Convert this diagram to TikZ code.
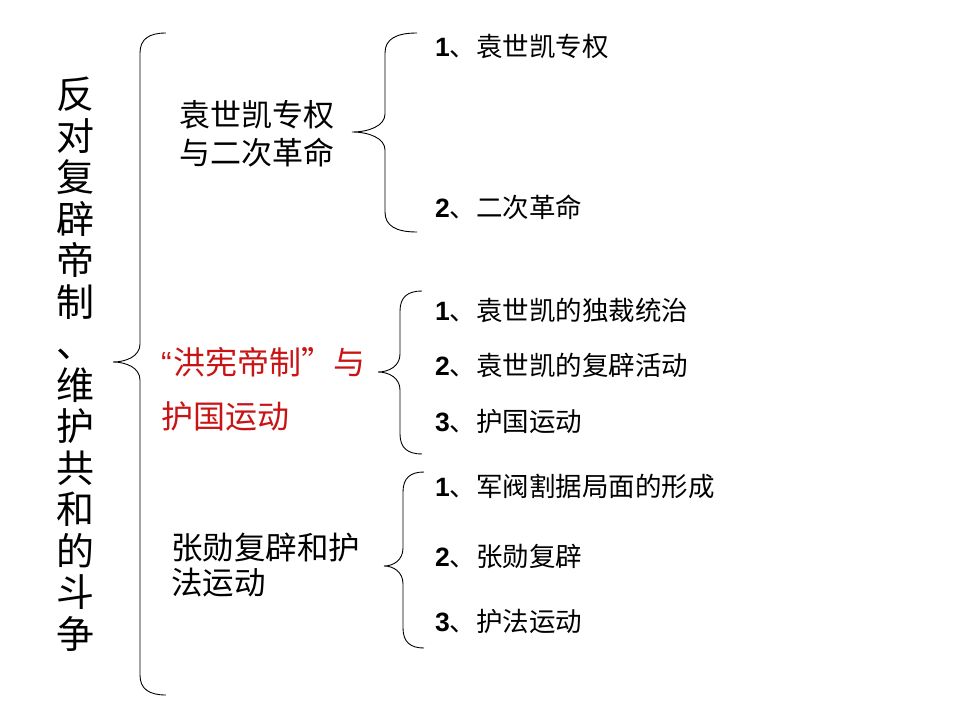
\documentclass[tikz,border=0pt]{standalone}
\usepackage{fontspec}
\newfontfamily\cjk{Noto Sans CJK SC}
\newfontfamily\dig{Liberation Sans}
\definecolor{redtxt}{RGB}{200,20,20}
\newcommand\drawbrace[6]{% #1 xend, #2 xvert, #3 xtip, #4 ytop, #5 ytip, #6 ybot
  \draw[bracestyle] (#1,#4) .. controls ({#2+0.35*(#1-#2)},#4) and (#2,{#4+6}) .. (#2,{#4+20})
    -- (#2,{#5-18}) .. controls (#2,{#5-6}) and ({#3+0.5*(#2-#3)},#5) .. (#3,#5)
    .. controls ({#3+0.5*(#2-#3)},#5) and (#2,{#5+6}) .. (#2,{#5+18})
    -- (#2,{#6-20}) .. controls (#2,{#6-6}) and ({#2+0.35*(#1-#2)},#6) .. (#1,#6);}
\begin{document}
\begin{tikzpicture}[x=1pt,y=-1pt,
  bracestyle/.style={draw=black,line width=0.9pt},
  big/.style={inner sep=0pt,font=\cjk\fontsize{38}{41.5}\selectfont,align=center},
  mid/.style={inner sep=0pt,anchor=west,align=left},
  item/.style={inner sep=0pt,anchor=west,font=\cjk\fontsize{26.5}{30}\selectfont}]
\useasboundingbox[fill=white] (0,0) rectangle (960,720);
\newcommand\num[1]{{\dig\bfseries #1}}
% left title
\node[big] (title) at (75,364) {反\\对\\复\\辟\\帝\\制\\、\\维\\护\\共\\和\\的\\斗\\争};
% outer brace
\drawbrace{166}{140}{113}{33}{362}{695}
% middle topics
\node[mid,font=\cjk\fontsize{31}{38}\selectfont] (t1) at (179,134) {袁世凯专权\\与二次革命};
\node[mid,font=\cjk\fontsize{32}{54}\selectfont,text=redtxt] (t2) at (161,389) {{\dig “}\hspace{2pt}洪宪帝制”与\\护国运动};
\node[mid,font=\cjk\fontsize{31.5}{35}\selectfont] (t3) at (171,565) {张勋复辟和护\\法运动};
% sub braces
\drawbrace{417}{385}{352}{33}{132}{232}
\drawbrace{422}{400}{378}{291}{372}{454}
\drawbrace{424}{403}{384}{472}{566}{648}
% items
\node[item] (a1) at (435,46) {\num{1}、袁世凯专权};
\node[item] (a2) at (435,207) {\num{2}、二次革命};
\node[item] (b1) at (435,310) {\num{1}、袁世凯的独裁统治};
\node[item] (b2) at (435,365) {\num{2}、袁世凯的复辟活动};
\node[item] (b3) at (435,421) {\num{3}、护国运动};
\node[item] (c1) at (435,486) {\num{1}、军阀割据局面的形成};
\node[item] (c2) at (435,556) {\num{2}、张勋复辟};
\node[item] (c3) at (435,621) {\num{3}、护法运动};
\end{tikzpicture}
\end{document}
